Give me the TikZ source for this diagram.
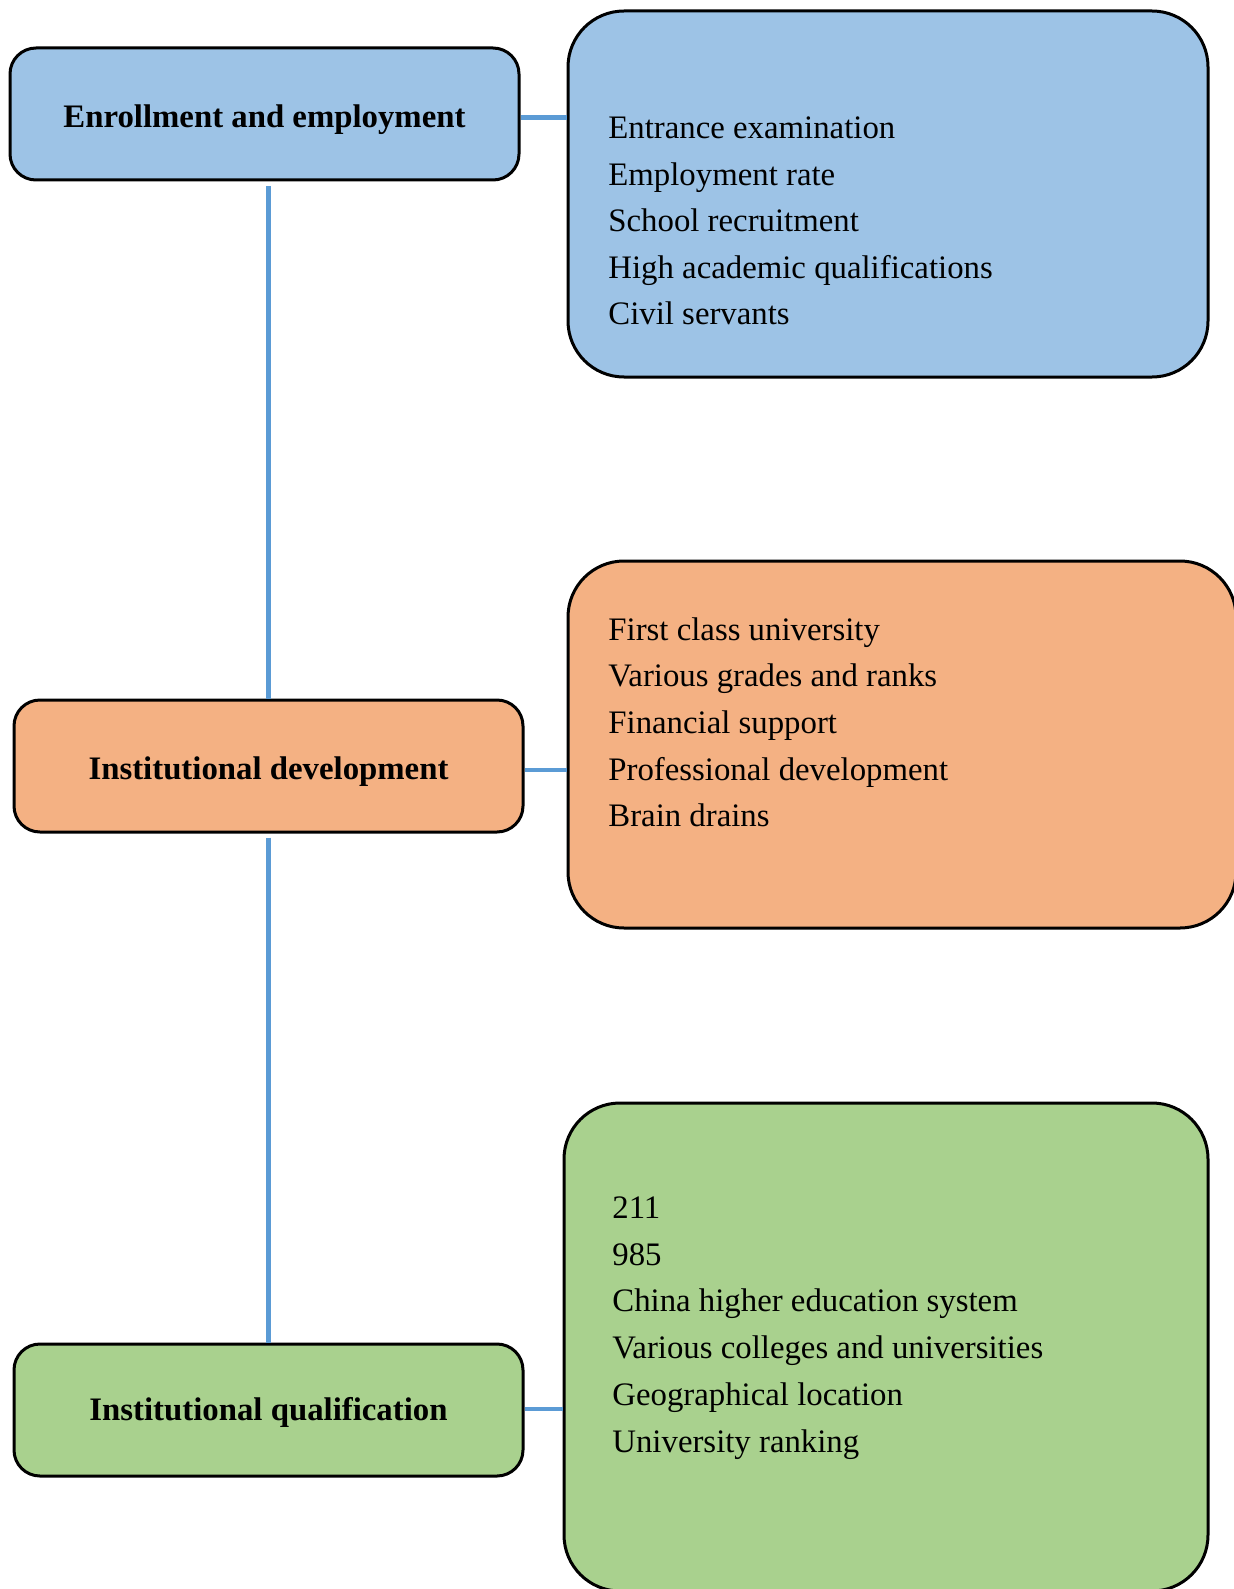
\documentclass[tikz,border=0pt]{standalone}
\usepackage{fontspec}
\setmainfont{Liberation Serif}
\definecolor{bluefill}{HTML}{9DC3E6}
\definecolor{orangefill}{HTML}{F4B183}
\definecolor{greenfill}{HTML}{A9D18E}
\definecolor{linkblue}{HTML}{5B9BD5}
\begin{document}
\begin{tikzpicture}[x=0.5pt,y=-0.5pt,
  txt/.style={font=\fontsize{16.4}{20}\selectfont},
  head/.style={draw=black, line width=1.5pt, rounded corners=13pt,
    minimum width=254.5pt, minimum height=66pt, inner sep=0pt,
    font=\fontsize{16.4}{20}\selectfont\bfseries, text height=13.6pt, text depth=0pt},
  panel/.style={draw=black, line width=1.5pt, rounded corners=28pt, inner sep=0pt},
  item/.style={txt, anchor=base west, inner sep=0pt},
  link/.style={draw=linkblue, line width=2.3pt}]
\useasboundingbox (0,0) rectangle (1234,1589);
\fill[white] (0,0) rectangle (1234,1589);
\begin{scope}
\clip (0,0) rectangle (1234,1589);
% detail panels
\node[panel, fill=bluefill, minimum width=320pt, minimum height=183pt] (p1) at (888,194) {};
\node[panel, fill=orangefill, minimum width=334pt, minimum height=183.5pt] (p2) at (902,744.5) {};
\node[panel, fill=greenfill, minimum width=322pt, minimum height=244pt] (p3) at (886,1347) {};
\end{scope}

% category boxes
\node[head, fill=bluefill] (h1) at (264.5,114) {Enrollment and employment};
\node[head, fill=orangefill] (h2) at (268.5,766) {Institutional development};
\node[head, fill=greenfill, text height=10.8pt] (h3) at (268.5,1410) {Institutional qualification};

% panel entries
\foreach \t [count=\i] in {Entrance examination, Employment rate, School recruitment,
    High academic qualifications, Civil servants}
  \node[item] (b\i) at (608,{138.5+46.6*(\i-1)}) {\t};
\foreach \t [count=\i] in {First class university, Various grades and ranks,
    Financial support, Professional development, Brain drains}
  \node[item] (o\i) at (608,{640.3+46.65*(\i-1)}) {\t};
\foreach \t [count=\i] in {211, 985, China higher education system,
    Various colleges and universities, Geographical location, University ranking}
  \node[item] (g\i) at (612,{1218.5+46.7*(\i-1)}) {\t};

% connectors
\draw[link] ([yshift=-1.75pt]h1.east) -- ([yshift=-1.75pt]h1.east -| p1.west);
\draw[link] ([yshift=-2pt]h2.east) -- ([yshift=-2pt]h2.east -| p2.west);
\draw[link] ([yshift=0.5pt]h3.east) -- ([yshift=0.5pt]h3.east -| p3.west);
\draw[link] ([yshift=-2.5pt]h1.south -| h2.north) -- (h2.north);
\draw[link] ([yshift=-2pt]h2.south) -- (h3.north);
\end{tikzpicture}
\end{document}
